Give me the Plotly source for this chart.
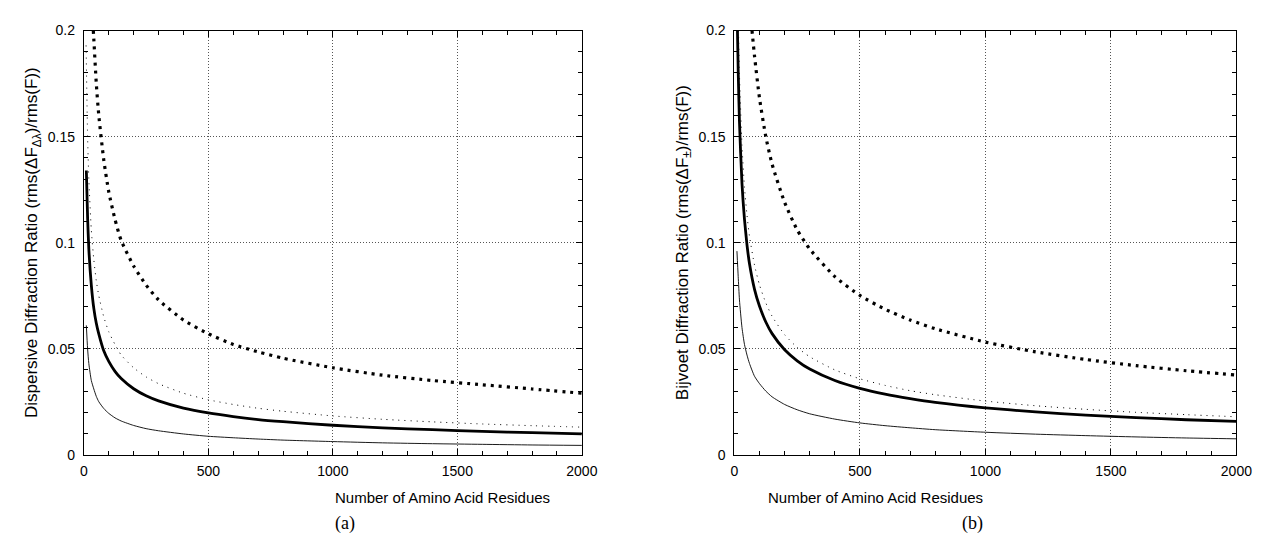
import plotly.graph_objects as go

# ---------------- data ----------------
N = [10, 15, 20, 30, 40, 50, 60, 80, 100, 125, 150, 200, 250, 300, 400, 500,
     600, 700, 800, 1000, 1200, 1400, 1600, 1800, 2000]

# panel (a) dispersive
a_thick_solid = [0.134, 0.112, 0.097, 0.080, 0.069, 0.062, 0.057, 0.049, 0.044, 0.0393,
                 0.0359, 0.0311, 0.0278, 0.0254, 0.022, 0.0197, 0.018, 0.0166, 0.0156,
                 0.0139, 0.0127, 0.0118, 0.011, 0.0104, 0.0098]
a_thin_solid = [0.061, 0.050, 0.043, 0.035, 0.031, 0.0275, 0.025, 0.0218, 0.0195, 0.0174,
                0.0159, 0.0138, 0.0123, 0.0113, 0.0098, 0.0087, 0.008, 0.0074, 0.0069,
                0.0062, 0.0056, 0.0052, 0.0049, 0.0046, 0.0044]
a_thin_dot_N = [9] + N[1:]
a_thin_dot = [0.193, 0.150, 0.130, 0.106, 0.092, 0.082, 0.075, 0.065, 0.058, 0.052,
              0.047, 0.041, 0.0367, 0.0335, 0.029, 0.0259, 0.0237, 0.0219, 0.0205,
              0.0183, 0.0167, 0.0155, 0.0145, 0.0137, 0.013]
a_thick_dot_N = [38, 40, 50, 60, 80, 100, 125, 150, 200, 250, 300, 400, 500, 600, 700,
                 800, 1000, 1200, 1400, 1600, 1800, 2000]
a_thick_dot = [0.200, 0.196, 0.175, 0.160, 0.139, 0.124, 0.111, 0.101, 0.089, 0.080,
               0.073, 0.0635, 0.057, 0.052, 0.0485, 0.0455, 0.041, 0.0375, 0.035,
               0.033, 0.031, 0.029]

# panel (b) Bijvoet
b_thick_solid_N = [12, 15, 20, 30, 40, 50, 60, 80, 100, 125, 150, 200, 250, 300, 400,
                   500, 600, 700, 800, 1000, 1200, 1400, 1600, 1800, 2000]
b_thick_solid = [0.200, 0.181, 0.157, 0.128, 0.111, 0.099, 0.090, 0.078, 0.070, 0.0626,
                 0.0571, 0.0495, 0.0443, 0.0404, 0.035, 0.0313, 0.0286, 0.0265, 0.0247,
                 0.0221, 0.0202, 0.0187, 0.0175, 0.0165, 0.0157]
b_thin_solid = [0.096, 0.084, 0.073, 0.060, 0.052, 0.047, 0.043, 0.037, 0.0335, 0.030,
                0.0273, 0.0237, 0.0212, 0.0193, 0.0168, 0.015, 0.0137, 0.0127, 0.0118,
                0.0106, 0.0097, 0.009, 0.0084, 0.0079, 0.0075]
b_thin_dot_N = [16, 20, 30, 40, 50, 60, 80, 100, 125, 150, 200, 250, 300, 400, 500,
                600, 700, 800, 1000, 1200, 1400, 1600, 1800, 2000]
b_thin_dot = [0.200, 0.179, 0.146, 0.126, 0.113, 0.103, 0.0894, 0.080, 0.0716, 0.0653,
              0.0566, 0.0506, 0.0462, 0.040, 0.0358, 0.0327, 0.0302, 0.0283, 0.0253,
              0.0231, 0.0214, 0.020, 0.0189, 0.0179]
b_thick_dot_N = [70, 80, 100, 125, 150, 200, 250, 300, 400, 500, 600, 700, 800, 1000,
                 1200, 1400, 1600, 1800, 2000]
b_thick_dot = [0.200, 0.188, 0.168, 0.150, 0.137, 0.119, 0.106, 0.097, 0.084, 0.0751,
               0.0686, 0.0635, 0.0594, 0.0531, 0.0485, 0.0449, 0.042, 0.0396, 0.0376]

x_ticks = [0, 500, 1000, 1500, 2000]
y_ticks = [0, 0.05, 0.1, 0.15, 0.2]
y_tick_labels = ["0", "0.05", "0.1", "0.15", "0.2"]

titles_y = ["Dispersive Diffraction Ratio (rms(ΔF<sub>Δλ</sub>)/rms(F))",
            "Bijvoet Diffraction Ratio (rms(ΔF<sub>±</sub>)/rms(F))"]
title_x = "Number of Amino Acid Residues"
panel_labels = ["(a)", "(b)"]

# ---------------- figure ----------------
fig = go.Figure()

def add(xs, ys, ax, width, dash):
    fig.add_trace(go.Scatter(
        x=xs, y=ys, mode="lines", xaxis="x" + ax, yaxis="y" + ax,
        line=dict(color="black", width=width, dash=dash, shape="spline", smoothing=0.6),
        showlegend=False, hoverinfo="skip", cliponaxis=True))

add(a_thick_dot_N, a_thick_dot, "", 3.2, "3px 5px")
add(a_thin_dot_N, a_thin_dot, "", 1.0, "1px 5px")
add(N, a_thin_solid, "", 0.9, "solid")
add(N, a_thick_solid, "", 2.8, "solid")

add(b_thick_dot_N, b_thick_dot, "2", 3.2, "3px 5px")
add(b_thin_dot_N, b_thin_dot, "2", 1.0, "1px 5px")
add(N, b_thin_solid, "2", 0.9, "solid")
add(b_thick_solid_N, b_thick_solid, "2", 2.8, "solid")

W, H = 1270, 545
FAM = "Liberation Sans"
font = dict(family=FAM, size=14, color="black")

def xaxis(domain, anchor):
    return dict(domain=domain, anchor=anchor, range=[0, 2000], tickvals=x_ticks,
                ticks="inside", ticklen=6, tickcolor="black", showline=True,
                linecolor="black", linewidth=1, mirror="allticks",
                showgrid=True, gridcolor="#555", griddash="1px 2px", gridwidth=1,
                zeroline=False, tickfont=font, ticklabelstandoff=3,
                minor=dict(dtick=100, ticks="inside", ticklen=4, tickcolor="black",
                           showgrid=False))

def yaxis(domain, anchor, title):
    return dict(domain=domain, anchor=anchor, range=[0, 0.2], tickvals=y_ticks,
                ticktext=y_tick_labels, ticks="inside", ticklen=6, tickcolor="black",
                showline=True, linecolor="black", linewidth=1, mirror="allticks",
                showgrid=True, gridcolor="#555", griddash="1px 2px", gridwidth=1,
                zeroline=False, tickfont=font, ticklabelstandoff=5,
                title=dict(text=title, font=dict(family=FAM, size=17, color="black"),
                           standoff=5),
                minor=dict(dtick=0.01, ticks="inside", ticklen=4, tickcolor="black",
                           showgrid=False))

xd1 = [73 / W, 579 / W]
xd2 = [734 / W, 1244 / W]
yd = [1 - 452 / H, 1 - 15 / H]

fig.update_layout(
    width=W, height=H, paper_bgcolor="white", plot_bgcolor="white",
    margin=dict(l=0, r=0, t=0, b=0), font=font,
    xaxis=xaxis(xd1, "y"), yaxis=yaxis(yd, "x", titles_y[0]),
    xaxis2=xaxis(xd2, "y2"), yaxis2=yaxis(yd, "x2", titles_y[1]),
)

for i, xd in enumerate([xd1, xd2]):
    cx = (xd[0] + xd[1]) / 2
    fig.add_annotation(x=cx, y=1 - 507 / H, xref="paper", yref="paper",
                       text=title_x, showarrow=False,
                       font=dict(family=FAM, size=15, color="black"))
    fig.add_annotation(x=cx, y=1 - 536 / H, xref="paper", yref="paper",
                       text=panel_labels[i], showarrow=False,
                       font=dict(family="Liberation Serif", size=18, color="black"))

fig.write_html("out.html")
